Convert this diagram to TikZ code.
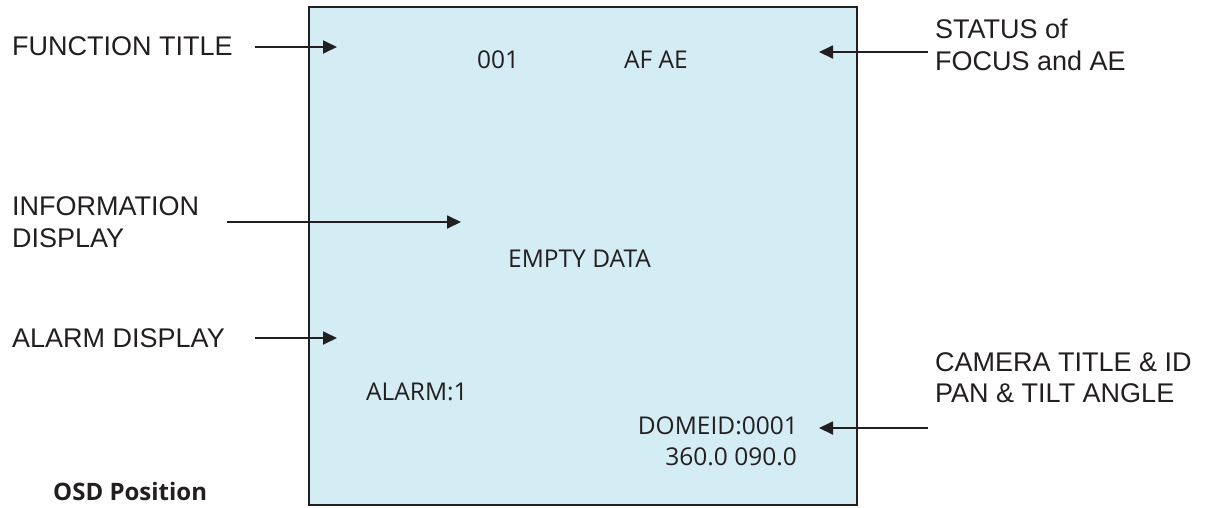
\documentclass[tikz,border=0pt]{standalone}
\usepackage{fontspec}
\setmainfont{Liberation Sans}
\newfontfamily\osdfont{Open Sans}
\usetikzlibrary{arrows.meta}
\definecolor{screenblue}{RGB}{212,236,244}
\definecolor{ink}{RGB}{35,31,32}
\tikzset{
  lbl/.style={anchor=base west,inner sep=0pt,text=ink,font=\fontsize{27}{32}\selectfont},
  osd/.style={inner sep=0pt,text=ink,font=\osdfont\fontsize{24.5}{29}\selectfont},
  pointer/.style={draw=ink,line width=1.8pt,-{Triangle[length=14pt,width=13pt]}},
}
\begin{document}
\begin{tikzpicture}[x=1pt,y=-1pt]
\useasboundingbox (0,0) rectangle (1210,507);
\fill[white] (0,0) rectangle (1210,507);
\draw[ink,fill=screenblue,line width=2.5pt] (309,7) rectangle (857,505);

% labels outside
\node[lbl] (ft) at (12,55) {FUNCTION TITLE};
\node[lbl] (infoA) at (12,215) {INFORMATION};
\node[lbl] (infoB) at (12,247) {DISPLAY};
\node[lbl] (alarm) at (12,347) {ALARM DISPLAY};
\node[lbl] (statA) at (935,38) {STATUS of};
\node[lbl] (statB) at (935,70) {FOCUS and AE};
\node[lbl] (camA) at (935,371) {CAMERA TITLE \& ID};
\node[lbl] (camB) at (935,402) {PAN \& TILT ANGLE};
\node[anchor=base west,inner sep=0pt,text=ink,font=\osdfont\bfseries\fontsize{24}{29}\selectfont] (cap) at (53,500) {OSD Position};

% texts on screen
\node[osd,anchor=base west] (num) at (477,68) {001};
\node[osd,anchor=base west] (afae) at (624,68) {AF AE};
\node[osd,anchor=base west] (empty) at (508,267) {EMPTY DATA};
\node[osd,anchor=base west] (alm) at (366,400) {ALARM:1};
\node[osd,anchor=base east] (dome) at (798,434) {DOMEID:0001};
\node[osd,anchor=base east] (pt) at (797,465) {360.0 090.0};

% arrows
\coordinate (ftS) at (255,47);   \coordinate (ftT) at (337,47);
\coordinate (infS) at (227,222); \coordinate (infT) at (461,222);
\coordinate (alS) at (255,338);  \coordinate (alT) at (337,338);
\coordinate (stS) at (928,52);   \coordinate (stT) at (819,52);
\coordinate (caS) at (928,428);  \coordinate (caT) at (819,428);
\draw[pointer] (ftS) -- (ftT);
\draw[pointer] (infS) -- (infT);
\draw[pointer] (alS) -- (alT);
\draw[pointer] (stS) -- (stT);
\draw[pointer] (caS) -- (caT);
\end{tikzpicture}
\end{document}
